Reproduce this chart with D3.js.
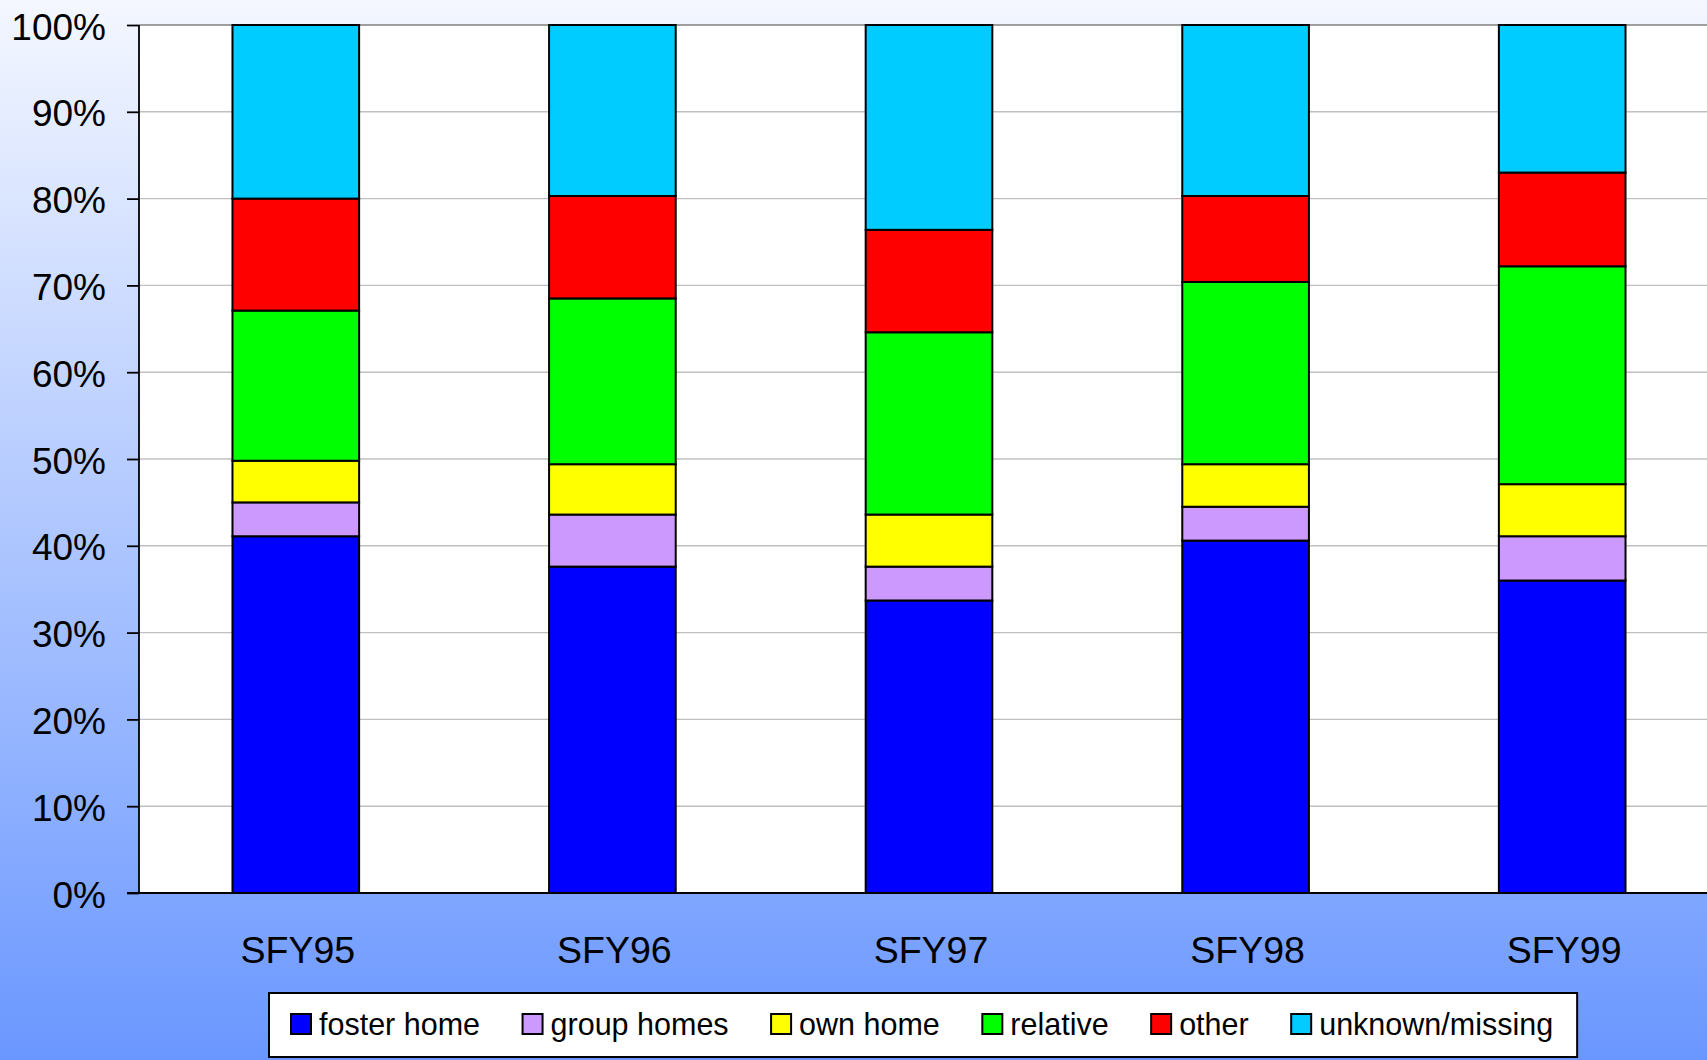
<!DOCTYPE html>
<html>
<head>
<meta charset="utf-8">
<script src="https://cdn.jsdelivr.net/npm/d3@7"></script>
<style>
  html, body { margin: 0; padding: 0; overflow: hidden; }
  svg { display: block; font-family: "Liberation Sans", Arial, sans-serif; }
</style>
</head>
<body>
<div id="chart"></div>
<script>
// Categories (fiscal years)
const years = ["SFY95", "SFY96", "SFY97", "SFY98", "SFY99"];

// Series, bottom to top, percent of total
const seriesNames = ["foster home", "group homes", "own home", "relative", "other", "unknown/missing"];
const fosterHome = [41.1, 37.6, 33.7, 40.6, 36.0];
const groupHomes = [3.9, 6.0, 3.9, 3.9, 5.1];
const ownHome = [4.8, 5.8, 6.0, 4.9, 6.0];
const relative = [17.3, 19.1, 21.0, 21.0, 25.1];
const other = [12.9, 11.8, 11.8, 9.9, 10.8];
const unknownMissing = [20.0, 19.7, 23.6, 19.7, 17.0];

const yTicks = [0, 10, 20, 30, 40, 50, 60, 70, 80, 90, 100];

const seriesColors = ["#0000FF", "#CC99FF", "#FFFF00", "#00FF00", "#FF0000", "#00CCFF"];

const width = 1707, height = 1060;
const plot = { left: 139, top: 25, bottom: 893, right: 1707 };

const svg = d3.select("#chart").append("svg")
    .attr("width", width)
    .attr("height", height);

// Background gradient
const grad = svg.append("defs").append("linearGradient")
    .attr("id", "bg")
    .attr("x1", 0).attr("y1", 0).attr("x2", 0).attr("y2", 1);
grad.append("stop").attr("offset", "0%").attr("stop-color", "#f4f7ff");
grad.append("stop").attr("offset", "100%").attr("stop-color", "#6a97ff");

svg.append("rect")
    .attr("width", width)
    .attr("height", height)
    .attr("fill", "url(#bg)");

// Plot area
svg.append("rect")
    .attr("x", plot.left)
    .attr("y", plot.top)
    .attr("width", plot.right - plot.left)
    .attr("height", plot.bottom - plot.top)
    .attr("fill", "#ffffff");

// Scales
const x = d3.scaleBand()
    .domain(years)
    .range([137.5, 1720.5])
    .paddingInner(0.6)
    .paddingOuter(0.3);

const y = d3.scaleLinear()
    .domain([0, 100])
    .range([plot.bottom, plot.top]);

// Gridlines
svg.append("g")
    .selectAll("line")
    .data(yTicks.filter(t => t > 0 && t < 100))
    .join("line")
    .attr("x1", plot.left)
    .attr("x2", plot.right)
    .attr("y1", d => y(d))
    .attr("y2", d => y(d))
    .attr("stroke", "#c0c0c0")
    .attr("stroke-width", 1.4);

// Top border of plot area
svg.append("line")
    .attr("x1", plot.left).attr("x2", plot.right)
    .attr("y1", y(100)).attr("y2", y(100))
    .attr("stroke", "#808080")
    .attr("stroke-width", 1.5);

// Stack data
const table = years.map((yr, i) => {
    const row = { year: yr };
    row[seriesNames[0]] = fosterHome[i];
    row[seriesNames[1]] = groupHomes[i];
    row[seriesNames[2]] = ownHome[i];
    row[seriesNames[3]] = relative[i];
    row[seriesNames[4]] = other[i];
    row[seriesNames[5]] = unknownMissing[i];
    return row;
});

const stacked = d3.stack()
    .keys(seriesNames)
    .offset(d3.stackOffsetExpand)(table);

const color = d3.scaleOrdinal().domain(seriesNames).range(seriesColors);

svg.append("g")
    .selectAll("g")
    .data(stacked)
    .join("g")
    .attr("fill", d => color(d.key))
    .selectAll("rect")
    .data(d => d)
    .join("rect")
    .attr("x", d => x(d.data.year))
    .attr("width", x.bandwidth())
    .attr("y", d => y(d[1] * 100))
    .attr("height", d => y(d[0] * 100) - y(d[1] * 100))
    .attr("stroke", "#000")
    .attr("stroke-width", 2);

// Y axis
const yAxis = svg.append("g")
    .attr("transform", `translate(${plot.left},0)`)
    .call(d3.axisLeft(y).tickValues(yTicks).tickFormat(d => d + "%").tickSize(12).tickPadding(21));
yAxis.select(".domain").attr("stroke", "#000").attr("stroke-width", 1.8).attr("d", `M0,${plot.top}V${plot.bottom}`);
yAxis.selectAll(".tick line").attr("stroke", "#000").attr("stroke-width", 1.8);
yAxis.selectAll(".tick text")
    .attr("fill", "#000")
    .attr("dy", "0.38em")
    .style("font-size", "37px")
    .style("font-family", "'Liberation Sans', Arial, sans-serif");

// X axis baseline
svg.append("line")
    .attr("x1", plot.left - 12).attr("x2", plot.right)
    .attr("y1", plot.bottom).attr("y2", plot.bottom)
    .attr("stroke", "#000")
    .attr("stroke-width", 1.8);

// X labels
svg.append("g")
    .selectAll("text")
    .data(years)
    .join("text")
    .attr("x", d => x(d) + x.bandwidth() / 2 + 2)
    .attr("y", 963)
    .attr("text-anchor", "middle")
    .style("font-size", "37.5px")
    .text(d => d);

// Legend
const legend = svg.append("g");
const legendBox = legend.append("rect")
    .attr("y", 993)
    .attr("height", 64)
    .attr("fill", "#fff")
    .attr("stroke", "#000")
    .attr("stroke-width", 2);

const itemGap = 42.5;
let lx = 291;
seriesNames.forEach((name, i) => {
    legend.append("rect")
        .attr("x", lx)
        .attr("y", 1014)
        .attr("width", 20)
        .attr("height", 20)
        .attr("fill", seriesColors[i])
        .attr("stroke", "#000")
        .attr("stroke-width", 2);
    const t = legend.append("text")
        .attr("x", lx + 28)
        .attr("y", 1035)
        .style("font-size", "30.5px")
        .text(name);
    lx += 28 + t.node().getComputedTextLength() + itemGap;
});
const legendRight = lx - itemGap + 24;
legendBox.attr("x", 269).attr("width", legendRight - 269);
</script>
</body>
</html>
